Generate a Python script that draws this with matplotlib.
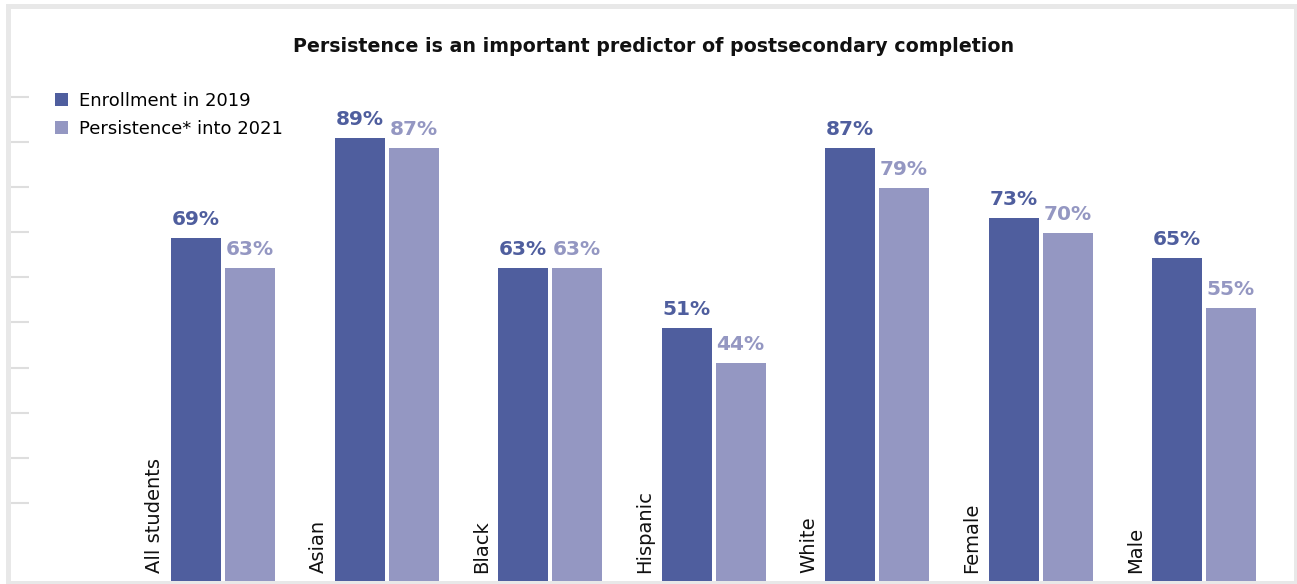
import matplotlib
matplotlib.use("Agg")
import matplotlib.pyplot as plt
from matplotlib.patches import Patch, Rectangle
import numpy as np

categories = ["All students", "Asian", "Black", "Hispanic", "White", "Female", "Male"]
enrollment_2019 = [69, 89, 63, 51, 87, 73, 65]
persistence_2021 = [63, 87, 63, 44, 79, 70, 55]
series_names = ["Enrollment in 2019", "Persistence* into 2021"]
title = "Persistence is an important predictor of postsecondary completion"

DARK = "#4f5e9e"
LIGHT = "#9497c2"
GRID = "#dedede"
FRAME = "#e8e8e8"

W, H = 1297, 584
fig = plt.figure(figsize=(W / 100, H / 100), dpi=100)
plt.rcParams['font.family'] = ['DejaVu Sans']

# outer frame
fig.patches.append(Rectangle((7.5 / W, 1.5 / H), (1295.5 - 7.5) / W, (578.5 - 1.5) / H,
                             transform=fig.transFigure, fill=False,
                             edgecolor=FRAME, linewidth=3.6, zorder=0))

ax_left = 29
ax = fig.add_axes([ax_left / W, 1 / H, (1294 - ax_left) / W, 500 / H])
unit = 163.5
c0 = 223
ax.set_xlim(-(c0 - ax_left) / unit, (1294 - c0) / unit)
ax.set_ylim(0, 100)

x = np.arange(len(categories))
bw = 50 / unit
off = 27 / unit
b1 = ax.bar(x - off, enrollment_2019, width=bw, color=DARK, zorder=2)
b2 = ax.bar(x + off, persistence_2021, width=bw, color=LIGHT, zorder=2)

for bars, vals, col in [(b1, enrollment_2019, DARK), (b2, persistence_2021, LIGHT)]:
    for r, v in zip(bars, vals):
        ax.annotate(f"{v}%", (r.get_x() + r.get_width() / 2, v), xytext=(0, 6.5),
                    textcoords="offset points", ha="center", va="bottom",
                    fontsize=14.5, fontweight="heavy", color=col)

for xi, cat in zip(x, categories):
    ax.text(xi - off - bw / 2 - 7 / unit, 2, cat, rotation=90, ha="right", va="bottom",
            fontsize=14, color="#111111")

for s in ax.spines.values():
    s.set_visible(False)
ax.set_xticks([])
ax.set_yticks(np.arange(16, 98, 9.03))
ax.set_yticklabels([])
ax.tick_params(axis="y", length=13.7, width=1.5, color=GRID, direction="out")

fig.text(654 / W, 1 - 46 / H, title, ha="center", va="center",
         fontsize=13.7, fontweight="bold", color="#111111")

handles = [Patch(facecolor=DARK), Patch(facecolor=LIGHT)]
fig.legend(handles, series_names, loc="upper left", bbox_to_anchor=(55 / W, 1 - 92 / H),
           frameon=False, fontsize=13, handlelength=0.7, handleheight=0.7,
           handletextpad=0.65, labelspacing=0.55, borderpad=0, borderaxespad=0)

fig.savefig("out.png", dpi=100)
